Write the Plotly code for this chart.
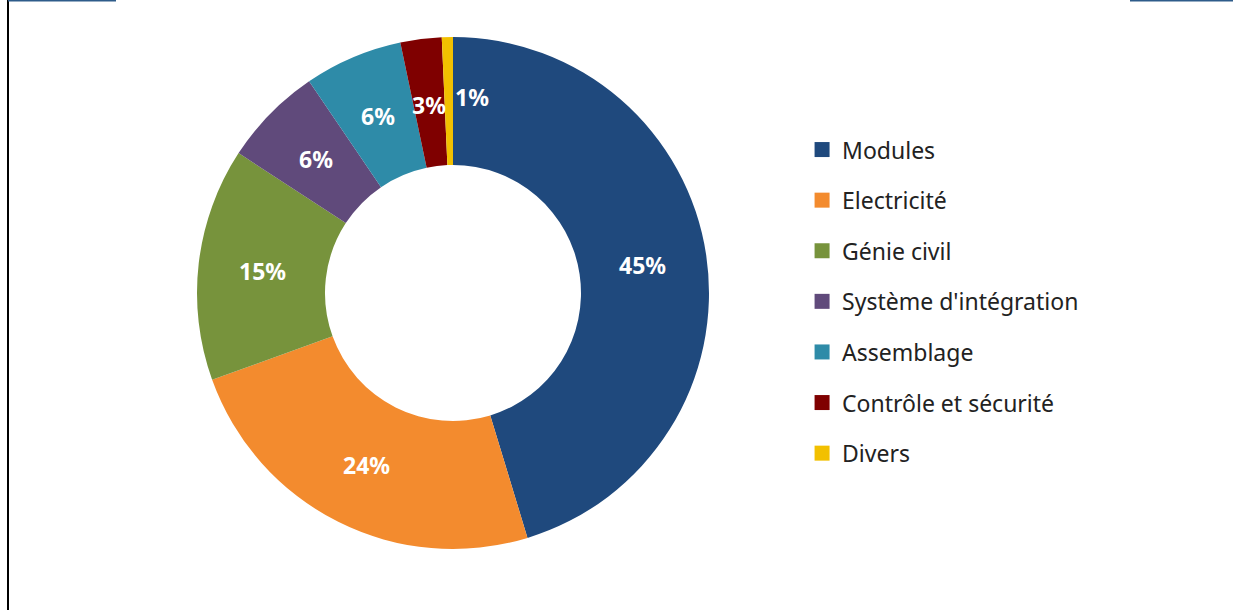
import math
import plotly.graph_objects as go

categories = ["Modules", "Electricité", "Génie civil", "Système d'intégration",
              "Assemblage", "Contrôle et sécurité", "Divers"]
values = [45.3, 24.2, 14.7, 6.3, 6.2, 2.6, 0.7]
colors = ["#1F497D", "#F38B2E", "#77933C", "#604A7B", "#2E8BA8", "#7F0000", "#F2C000"]

W, H = 1233, 610
CX, CY, R = 453, 293, 256   # pie centre / radius in px (from top-left)
HOLE = 0.5
FONT = "Noto Sans"

# extra label offsets (px) for slices narrower than their label
label_shift = {"Contrôle et sécurité": (0, -2), "Divers": (23, 4)}

fig = go.Figure()
fig.add_trace(go.Pie(
    labels=categories, values=values, hole=HOLE, sort=False,
    direction="clockwise", rotation=0,
    marker=dict(colors=colors, line=dict(width=0)),
    textinfo="none",
    showlegend=False,
    domain=dict(x=[(CX - R) / W, (CX + R) / W], y=[1 - (CY + R) / H, 1 - (CY - R) / H]),
))

# percentage labels at the middle of each ring segment, computed from the data
total = sum(values)
cum = 0.0
for c, v in zip(categories, values):
    mid = (cum + v / 2) / total
    cum += v
    th = 2 * math.pi * mid
    rm = R * (1 + HOLE) / 2
    px = CX + rm * math.sin(th)
    py = CY - rm * math.cos(th)
    dx, dy = label_shift.get(c, (0, 0))
    fig.add_annotation(x=px / W, y=1 - py / H, xref="paper", yref="paper",
                       xanchor="center", yanchor="middle",
                       text="<b>%d%%</b>" % round(v / total * 100), showarrow=False,
                       xshift=dx, yshift=dy,
                       font=dict(family=FONT, size=23, color="white"))

# legend entries
for c, col in zip(categories, colors):
    fig.add_trace(go.Scatter(x=[None], y=[None], mode="markers", name=c,
                             legendgroup=c,
                             marker=dict(symbol="square", size=15, color=col)))

fig.update_layout(
    width=W, height=H, margin=dict(l=0, r=0, t=0, b=0),
    paper_bgcolor="white", plot_bgcolor="white",
    xaxis=dict(visible=False), yaxis=dict(visible=False),
    legend=dict(x=0.6505, y=0.79, xanchor="left", yanchor="top",
                font=dict(family=FONT, size=23, color="#222222"),
                tracegroupgap=17.7, itemsizing="trace"),
    shapes=[
        dict(type="line", xref="paper", yref="paper", x0=8 / W, x1=8 / W, y0=0, y1=1,
             line=dict(color="black", width=2)),
        dict(type="line", xref="paper", yref="paper", x0=8 / W, x1=116 / W, y0=1 - 0.75 / H, y1=1 - 0.75 / H,
             line=dict(color="#2E5C8A", width=1.5)),
        dict(type="line", xref="paper", yref="paper", x0=1130 / W, x1=1, y0=1 - 0.75 / H, y1=1 - 0.75 / H,
             line=dict(color="#2E5C8A", width=1.5)),
    ],
)

fig.write_html("out.html", config={"displayModeBar": False},
               post_script="document.body.style.margin='0';")
